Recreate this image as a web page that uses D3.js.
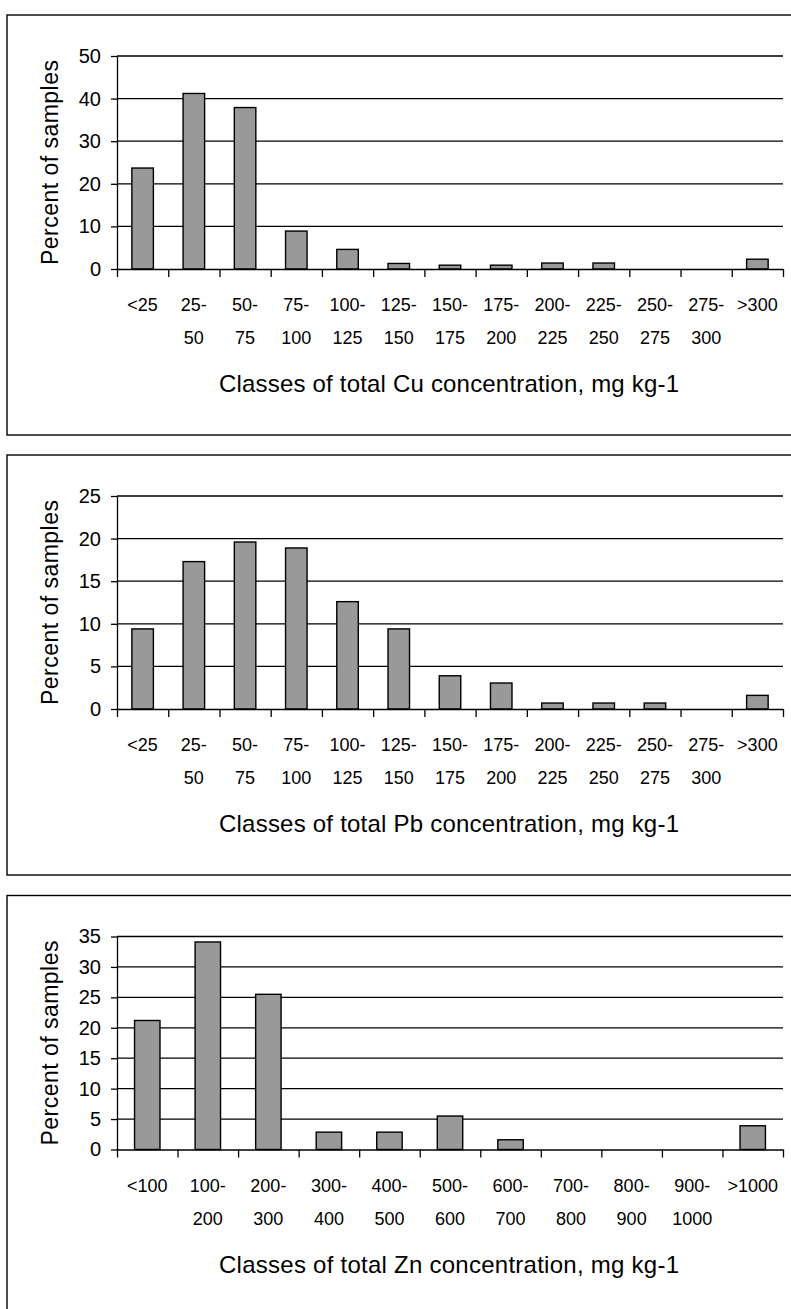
<!DOCTYPE html>
<html>
<head>
<meta charset="utf-8">
<script src="https://cdn.jsdelivr.net/npm/d3@7"></script>
<style>
  body { margin: 0; background: #fff; }
  svg { display: block; }
</style>
</head>
<body>
<div class="box"></div>
<script>
// DATA
const cuClasses = ["<25", "25-50", "50-75", "75-100", "100-125", "125-150", "150-175",
                   "175-200", "200-225", "225-250", "250-275", "275-300", ">300"];
const cuPercent = [23.7, 41.2, 37.9, 8.9, 4.6, 1.3, 0.9, 0.9, 1.4, 1.4, 0, 0, 2.3];
const cuTicks = [0, 10, 20, 30, 40, 50];

const pbClasses = ["<25", "25-50", "50-75", "75-100", "100-125", "125-150", "150-175",
                   "175-200", "200-225", "225-250", "250-275", "275-300", ">300"];
const pbPercent = [9.4, 17.3, 19.6, 18.9, 12.6, 9.4, 3.9, 3.05, 0.7, 0.7, 0.7, 0, 1.6];
const pbTicks = [0, 5, 10, 15, 20, 25];

const znClasses = ["<100", "100-200", "200-300", "300-400", "400-500", "500-600",
                   "600-700", "700-800", "800-900", "900-1000", ">1000"];
const znPercent = [21.2, 34.1, 25.5, 2.85, 2.85, 5.5, 1.6, 0, 0, 0, 3.9];
const znTicks = [0, 5, 10, 15, 20, 25, 30, 35];

const xTitles = ["Classes of total Cu concentration, mg kg-1",
                 "Classes of total Pb concentration, mg kg-1",
                 "Classes of total Zn concentration, mg kg-1"];
const yTitle = "Percent of samples";

// Vars for the svg "box"
const w = 791;
const h = 1309;
const font = "Arial, 'Liberation Sans', sans-serif";

const svg = d3.select(".box")
              .append("svg")
              .attr("width", w)
              .attr("height", h);

// panel geometry (relative to each panel's top)
const panelH = 420;
const plotTop = 41;
const plotBottom = 254;
const plotLeft = 117;
const plotRight = 783;

function drawPanel(top, classes, values, ticks, title) {
    const g = svg.append("g").attr("transform", "translate(0," + top + ")");

    // frame
    g.append("rect")
        .attr("x", 7)
        .attr("y", 0)
        .attr("width", 820)
        .attr("height", panelH)
        .attr("fill", "none")
        .attr("stroke", "#000")
        .attr("stroke-width", 1.4);

    const yScale = d3.scaleLinear()
                    .domain([0, d3.max(ticks)])
                    .range([plotBottom, plotTop]);

    const xScale = d3.scaleBand()
                    .domain(classes)
                    .range([plotLeft, plotRight])
                    .paddingInner(0.58)
                    .paddingOuter(0.29);

    // category boundaries for the tick marks
    const xBound = d3.scaleLinear()
                    .domain([0, classes.length])
                    .range([plotLeft, plotRight]);

    // gridlines
    g.append("g")
        .selectAll("line")
        .data(ticks.filter(t => t > 0))
        .enter()
        .append("line")
        .attr("x1", plotLeft)
        .attr("x2", plotRight)
        .attr("y1", d => yScale(d))
        .attr("y2", d => yScale(d))
        .attr("stroke", "#000")
        .attr("stroke-width", 1.3);

    // bars
    g.append("g")
        .selectAll("rect")
        .data(classes.map((c, i) => ({c: c, v: values[i]})).filter(d => d.v > 0))
        .enter()
        .append("rect")
        .attr("x", d => xScale(d.c))
        .attr("y", d => yScale(d.v))
        .attr("width", xScale.bandwidth())
        .attr("height", d => yScale(0) - yScale(d.v))
        .attr("fill", "#999999")
        .attr("stroke", "#000")
        .attr("stroke-width", 1.4);

    // Y AXIS
    const yAxis = d3.axisLeft(yScale)
                    .tickValues(ticks)
                    .tickSize(6)
                    .tickSizeOuter(0)
                    .tickPadding(10);
    const ya = g.append("g")
        .attr("transform", "translate(" + plotLeft + ",0)")
        .call(yAxis);
    ya.selectAll("text")
        .style("font-family", font)
        .style("font-size", "20px")
        .attr("fill", "#000");

    // X AXIS (ticks at class boundaries, no labels)
    const xAxis = d3.axisBottom(xBound)
                    .tickValues(d3.range(classes.length + 1))
                    .tickFormat("")
                    .tickSize(8)
                    .tickSizeOuter(0);
    g.append("g")
        .attr("transform", "translate(0," + plotBottom + ")")
        .call(xAxis);

    g.selectAll(".domain, .tick line")
        .attr("stroke", "#000")
        .attr("stroke-width", 1.3);

    // class labels, split over two lines at the dash
    const labels = g.append("g")
        .selectAll("text")
        .data(classes)
        .enter()
        .append("text")
        .attr("text-anchor", "middle")
        .style("font-family", font)
        .style("font-size", "18px")
        .attr("fill", "#000");
    labels.each(function(d) {
        const parts = d.split("-");
        const lines = parts.length === 2 ? [parts[0] + "-", parts[1]] : [d];
        const x = xScale(d) + xScale.bandwidth() / 2;
        d3.select(this).selectAll("tspan")
            .data(lines)
            .enter()
            .append("tspan")
            .attr("x", x)
            .attr("y", (l, i) => 296 + i * 33)
            .text(l => l);
    });

    // X AXIS NAME
    g.append("text")
        .attr("x", 449)
        .attr("y", 377)
        .attr("text-anchor", "middle")
        .attr("textLength", 460)
        .attr("lengthAdjust", "spacing")
        .style("font-family", font)
        .style("font-size", "24px")
        .text(title);

    // Y AXIS NAME
    g.append("text")
        .attr("transform", "translate(58," + ((plotTop + plotBottom) / 2) + ") rotate(-90)")
        .attr("text-anchor", "middle")
        .attr("textLength", 205)
        .attr("lengthAdjust", "spacing")
        .style("font-family", font)
        .style("font-size", "23px")
        .text(yTitle);
}

drawPanel(15, cuClasses, cuPercent, cuTicks, xTitles[0]);
drawPanel(455, pbClasses, pbPercent, pbTicks, xTitles[1]);
drawPanel(895.5, znClasses, znPercent, znTicks, xTitles[2]);
</script>
</body>
</html>
